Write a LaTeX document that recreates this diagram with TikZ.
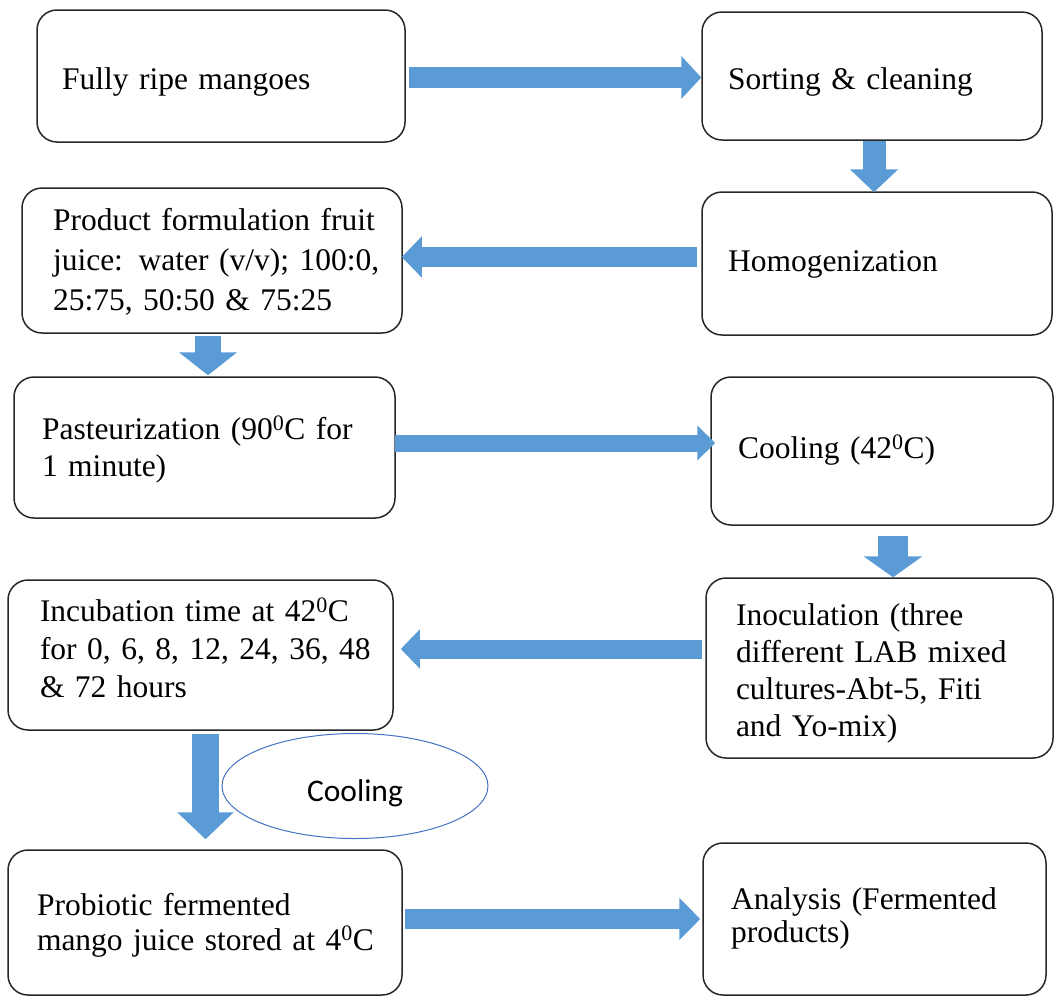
\documentclass[tikz,border=0pt]{standalone}
\usepackage{fontspec}
\setmainfont{Liberation Serif}
\newfontfamily\calibfont{Carlito}
\usetikzlibrary{arrows.meta,shapes.geometric}
\definecolor{arrowblue}{HTML}{5B9BD5}
\definecolor{ellblue}{HTML}{4472C4}
\definecolor{boxline}{HTML}{262626}
\newcommand\boxtext[2][-5pt]{\raisebox{#1}[\height][\depth]{\begin{tabular}{@{}l@{}}#2\end{tabular}}}
\tikzset{
  box/.style={draw=boxline, line width=1.5pt, rounded corners=20pt, align=left,
    inner ysep=0pt, font=\fontsize{31.5pt}{38pt}\selectfont},
  barrow/.style n args={3}{draw=arrowblue, line width=#1pt,
    -{Triangle[width=#2pt,length=#3pt,fill=arrowblue]}},
  coolell/.style={ellipse, draw=ellblue, line width=1pt, inner sep=0pt,
    font=\calibfont\fontsize{31.5pt}{36pt}\selectfont}
}
\begin{document}
\begin{tikzpicture}[x=1pt,y=-1pt]
\useasboundingbox (0,0) rectangle (1054,997);
% boxes
\node[box, inner xsep=25pt, text width=318pt, minimum height=132pt] (n1) at (221,76) {\boxtext[-6pt]{Fully ripe mangoes}};
\node[box, inner xsep=26pt, text width=288pt, minimum height=128pt] (n2) at (872,76) {\boxtext[-6pt]{Sorting \& cleaning}};
\node[box, inner xsep=26pt, text width=298pt, minimum height=143pt] (n3) at (877,263.5) {\boxtext[0pt]{Homogenization}};
\node[box, inner xsep=31pt, text width=318pt, minimum height=145pt, font=\fontsize{31.5pt}{40pt}\selectfont] (n4) at (212,260.5) {\boxtext[-2pt]{Product formulation fruit\\juice: water (v/v); 100:0,\\25:75, 50:50 \& 75:25}};
\node[box, inner xsep=28pt, text width=325pt, minimum height=141pt, font=\fontsize{31.5pt}{37pt}\selectfont] (n5) at (204.5,447.5) {\boxtext[-3pt]{Pasteurization (90\textsuperscript{0}C for\\1 minute)}};
\node[box, inner xsep=27pt, text width=288pt, minimum height=148pt] (n6) at (882,451) {\boxtext[0pt]{Cooling (42\textsuperscript{0}C)}};
\node[box, inner xsep=32pt, text width=321pt, minimum height=150pt] (n7) at (200.5,655) {\boxtext[3pt]{Incubation time at 42\textsuperscript{0}C\\for 0, 6, 8, 12, 24, 36, 48\\\& 72 hours}};
\node[box, inner xsep=30pt, text width=287pt, minimum height=180pt, font=\fontsize{31.5pt}{37pt}\selectfont] (n8) at (879.5,668) {\boxtext[-6pt]{Inoculation (three\\different LAB mixed\\cultures-Abt-5, Fiti\\and Yo-mix)}};
\node[box, inner xsep=29pt, text width=336pt, minimum height=145pt, font=\fontsize{31.5pt}{35pt}\selectfont] (n9) at (205,922.5) {\boxtext[-3pt]{Probiotic fermented\\mango juice stored at 4\textsuperscript{0}C}};
\node[box, inner xsep=28pt, text width=287pt, minimum height=152pt, font=\fontsize{31.5pt}{33pt}\selectfont] (n10) at (874.5,919) {\boxtext[0pt]{Analysis (Fermented\\products)}};
% ellipse label
\node[coolell, minimum width=266pt, minimum height=105pt] (cool) at (355,786) {\raisebox{-7pt}[\height][\depth]{Cooling}};
% block arrows
\draw[barrow={21}{42}{20}] ([shift={(3,1.5)}]n1.east) -- ([shift={(0,1.5)}]n2.west);
\draw[barrow={23}{47}{23}] ([shift={(2,0)}]n2.south) -- ([shift={(-3,1)}]n3.north);
\draw[barrow={19.5}{40}{20}] ([shift={(-4,-6.5)}]n3.west) -- ([shift={(-1,-3.5)}]n4.east);
\draw[barrow={26}{57}{23}] ([shift={(-4,2)}]n4.south) -- ([shift={(3.5,-1)}]n5.north);
\draw[barrow={17}{34}{18}] ([shift={(-1,-4.5)}]n5.east) -- ([shift={(5,-8)}]n6.west);
\draw[barrow={30}{58}{21}] ([shift={(11,10)}]n6.south) -- ([shift={(13.5,0)}]n8.north);
\draw[barrow={19}{38}{19}] ([shift={(-3,-19)}]n8.west) -- ([shift={(7,-6)}]n7.east);
\draw[barrow={27.5}{55}{27}] ([shift={(5,3)}]n7.south) -- ([shift={(0.5,-10)}]n9.north);
\draw[barrow={20}{41}{21}] ([shift={(2,-3.5)}]n9.east) -- ([shift={(-2,0)}]n10.west);
\end{tikzpicture}
\end{document}
